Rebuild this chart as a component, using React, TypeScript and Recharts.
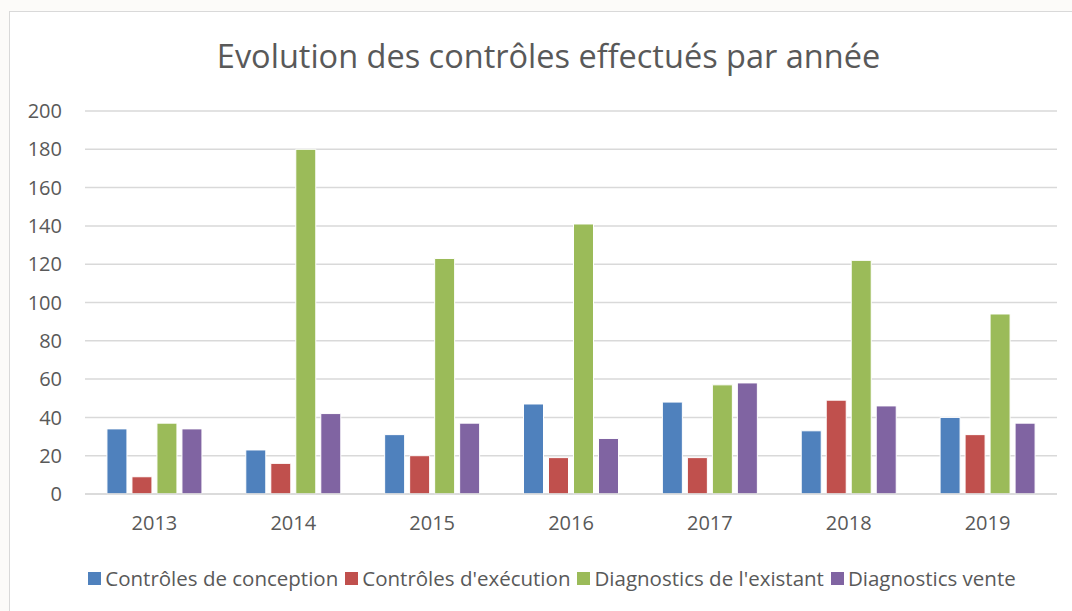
import React from "react";
import { BarChart, Bar, XAxis, YAxis, CartesianGrid } from "recharts";

const years = ["2013", "2014", "2015", "2016", "2017", "2018", "2019"];
const conception = [34, 23, 31, 47, 48, 33, 40];
const execution = [9, 16, 20, 19, 19, 49, 31];
const existant = [37, 180, 123, 141, 57, 122, 94];
const vente = [34, 42, 37, 29, 58, 46, 37];
const yTicks = [0, 20, 40, 60, 80, 100, 120, 140, 160, 180, 200];

const seriesNames = [
  "Contrôles de conception",
  "Contrôles d'exécution",
  "Diagnostics de l'existant",
  "Diagnostics vente",
];
const seriesKeys = ["conception", "execution", "existant", "vente"];
const seriesColors = ["#4F81BD", "#C0504D", "#9BBB59", "#8064A2"];

const data = years.map((y, i) => ({
  year: y,
  conception: conception[i],
  execution: execution[i],
  existant: existant[i],
  vente: vente[i],
}));

const FONT = "'Open Sans', sans-serif";
const TEXT = "#595959";

const LegendBlock = () => (
  <div
    style={{
      position: "absolute",
      left: 73,
      top: 564,
      width: 958,
      height: 28,
      display: "flex",
      justifyContent: "center",
      alignItems: "center",
      fontFamily: FONT,
      fontSize: 20.5,
      color: TEXT,
      whiteSpace: "nowrap",
    }}
  >
    {seriesNames.map((n, i) => (
      <span key={n} style={{ display: "inline-flex", alignItems: "center", marginRight: i < 3 ? 7 : 0 }}>
        <span
          style={{
            display: "inline-block",
            width: 13,
            height: 13,
            background: seriesColors[i],
            marginRight: 4,
          }}
        />
        {n}
      </span>
    ))}
  </div>
);

export default function App() {
  return (
    <div style={{ position: "absolute", left: 0, top: 0, width: 1072, height: 611, background: "#fcfbf9", overflow: "hidden" }}>
      <div
        style={{
          position: "absolute",
          left: 9,
          top: 11,
          width: 1080,
          height: 620,
          background: "#ffffff",
          border: "1.5px solid #d9d9d9",
        }}
      />
      <div
        style={{
          position: "absolute",
          left: 0,
          top: 34,
          width: 1097,
          textAlign: "center",
          fontFamily: FONT,
          fontSize: 32.5,
          color: TEXT,
          lineHeight: "44px",
          whiteSpace: "nowrap",
        }}
      >
        Evolution des contrôles effectués par année
      </div>
      <div style={{ position: "absolute", left: 0, top: 0 }}>
        <BarChart
          width={1072}
          height={611}
          data={data}
          margin={{ top: 111, right: 15, bottom: 77, left: 0 }}
          barCategoryGap="15.8%"
          barGap={5}
        >
          <CartesianGrid vertical={false} stroke="#d9d9d9" strokeWidth={1.5} />
          <XAxis
            dataKey="year"
            height={40}
            axisLine={{ stroke: "#d9d9d9", strokeWidth: 1.5 }}
            tickLine={false}
            tickSize={0}
            tickMargin={22}
            tick={{ fill: TEXT, fontSize: 20, fontFamily: FONT }}
            interval={0}
          />
          <YAxis
            width={85}
            domain={[0, 200]}
            ticks={yTicks}
            axisLine={false}
            tickLine={false}
            tickSize={0}
            tickMargin={23}
            tick={{ fill: TEXT, fontSize: 20, fontFamily: FONT }}
            interval={0}
          />
          {seriesKeys.map((k, i) => (
            <Bar
              key={k}
              dataKey={k}
              name={seriesNames[i]}
              fill={seriesColors[i]}
              stroke="#ffffff"
              strokeWidth={1}
              isAnimationActive={false}
            />
          ))}
        </BarChart>
      </div>
      <LegendBlock />
    </div>
  );
}
